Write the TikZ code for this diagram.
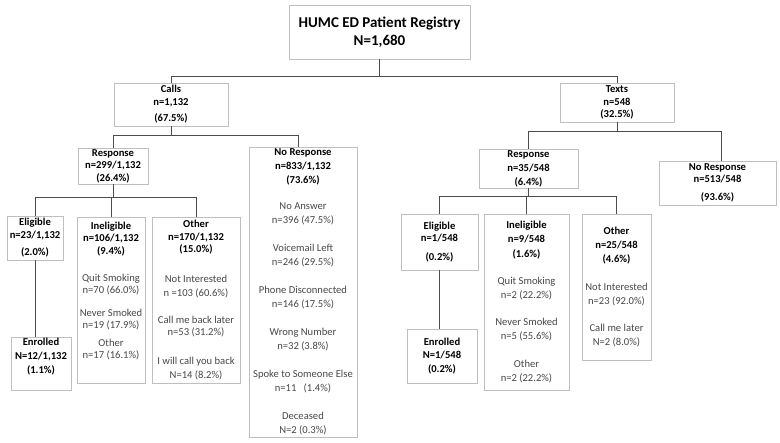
\documentclass[tikz,border=0pt]{standalone}
\usepackage{fontspec}
\setmainfont{Carlito}
\usetikzlibrary{positioning}

\newcommand{\hd}[1]{{\bfseries\color{black}#1}}

\begin{document}
\begin{tikzpicture}[x=1pt, y=-1pt,
    box/.style={
        rectangle, inner xsep=1pt, inner ysep=0.5pt, align=center,
        font=\fontsize{10.6}{12.5}\selectfont,
        draw=black!25, line width=0.6pt, text=black
    },
    head/.style={box, font=\fontsize{10.6}{12.5}\selectfont\bfseries},
    mixed/.style={box, text=black!72},
    titlebox/.style={box, font=\fontsize{15}{18}\selectfont\bfseries},
    link/.style={draw=black!70, line width=0.7pt}
]
\useasboundingbox (0,0) rectangle (780,443);

\node[titlebox, minimum width=181pt, minimum height=54pt] at (379.5,32) (reg)
    {HUMC ED Patient Registry\\N=1,680};

\node[head, minimum width=114pt, minimum height=43pt] at (171,104.5) (calls)
    {Calls\\n=1,132\\[4pt](67.5\%)};
\node[head, minimum width=114pt, minimum height=39pt] at (617,102.5) (texts)
    {Texts\\n=548\\(32.5\%)};

\node[head, minimum width=70pt, minimum height=36pt] at (113,166) (respC)
    {Response\\n=299/1,132\\(26.4\%)};
\node[mixed, minimum width=108pt, minimum height=290pt,
      font=\fontsize{10.6}{14}\selectfont] at (303,292) (noRespC)
    {\hd{No Response}\\\hd{n=833/1,132}\\\hd{(73.6\%)}\\[12pt]No Answer\\n=396 (47.5\%)\\[14pt]Voicemail Left\\n=246 (29.5\%)\\[14pt]Phone Disconnected\\n=146 (17.5\%)\\[14pt]Wrong Number\\n=32 (3.8\%)\\[14pt]Spoke to Someone Else\\n=11\ \ \ (1.4\%)\\[14pt]Deceased\\N=2 (0.3\%)};

\node[head, minimum width=99pt, minimum height=39pt] at (528.5,168.5) (respT)
    {Response\\[1.5pt]n=35/548\\[1.5pt](6.4\%)};
\node[head, minimum width=117pt, minimum height=44pt] at (717.5,183) (noRespT)
    {No Response\\n=513/548\\[5.5pt](93.6\%)};

\node[head, minimum width=56pt, minimum height=44pt] at (35,238) (eligC)
    {Eligible\\n=23/1,132\\[5pt](2.0\%)};
\node[mixed, minimum width=68pt, minimum height=166pt] at (111,300) (ineligC)
    {\hd{Ineligible}\\\hd{n=106/1,132}\\\hd{(9.4\%)}\\[14.5pt]Quit Smoking\\n=70 (66.0\%)\\[10pt]Never Smoked\\n=19 (17.9\%)\\[5pt]Other\\n=17 (16.1\%)\\[7pt]\mbox{}};
\node[mixed, minimum width=88pt, minimum height=166pt] at (196,300) (otherC)
    {\hd{Other}\\\hd{n=170/1,132}\\\hd{(15.0\%)}\\[17pt]Not Interested\\[2pt]n =103 (60.6\%)\\[14pt]Call me back later\\n=53 (31.2\%)\\[16pt]I will call you back\\[1.5pt]N=14 (8.2\%)};
\node[head, minimum width=60pt, minimum height=53pt] at (41,363.5) (enrolC)
    {Enrolled\\[1.5pt]N=12/1,132\\[1.5pt](1.1\%)\\[3pt]\mbox{}};

\node[head, minimum width=77pt, minimum height=56pt] at (439.5,242) (eligT)
    {Eligible\\n=1/548\\[6.5pt](0.2\%)};
\node[mixed, minimum width=85pt, minimum height=176pt] at (526.5,302) (ineligT)
    {\hd{Ineligible}\\[1.5pt]\hd{n=9/548}\\[2.5pt]\hd{(1.6\%)}\\[14.5pt]Quit Smoking\\[1.5pt]n=2 (22.2\%)\\[14.5pt]Never Smoked\\[1.5pt]n=5 (55.6\%)\\[15.5pt]Other\\[1pt]n=2 (22.2\%)};
\node[mixed, minimum width=69pt, minimum height=146pt] at (616.5,287) (otherT)
    {\hd{Other}\\[1.5pt]\hd{n=25/548}\\[1.5pt]\hd{(4.6\%)}\\[15.5pt]Not Interested\\[1.5pt]n=23 (92.0\%)\\[14.5pt]Call me later\\[1.5pt]N=2 (8.0\%)};
\node[head, minimum width=70pt, minimum height=54pt] at (442,356) (enrolT)
    {Enrolled\\[1pt]N=1/548\\[1.5pt](0.2\%)};

\draw[link] (reg.south) -- ++(0,17) -| (calls.north);
\draw[link] (reg.south) -- ++(0,17) -| (texts.north);

\draw[link] (calls.south) -- ++(0,9) -| (respC.north);
\draw[link] (calls.south) -- ++(0,9) -| ([xshift=-5pt]noRespC.north);
\draw[link] (texts.south) -- ++(0,9) -| (respT.north);
\draw[link] (texts.south) -- ++(0,9) -| ([xshift=4pt]noRespT.north);

\draw[link] (respC.south) -- ++(0,13) -| (eligC.north);
\draw[link] (respC.south) -- ++(0,13) -| (ineligC.north);
\draw[link] (respC.south) -- ++(0,13) -| (otherC.north);
\draw[link] (respT.south) -- ++(0,8) -| (eligT.north);
\draw[link] (respT.south) -- ++(0,8) -| (ineligT.north);
\draw[link] (respT.south) -- ++(0,8) -| (otherT.north);

\draw[link] (eligC.south) -- (eligC.south |- enrolC.north);
\draw[link] (eligT.south) -- (eligT.south |- enrolT.north);

\end{tikzpicture}
\end{document}
